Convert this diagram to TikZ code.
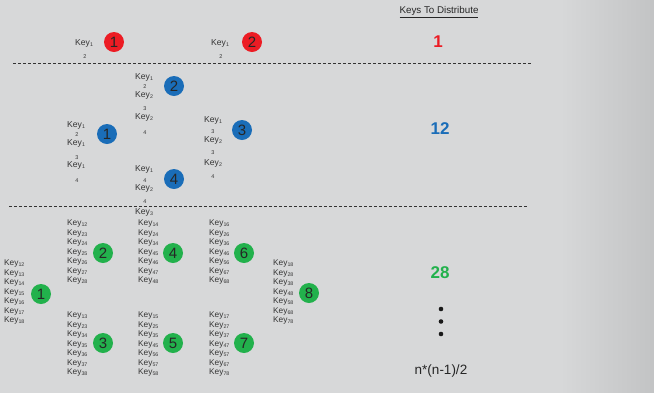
\documentclass[tikz,border=0pt]{standalone}
\usepackage{fontspec}
\setmainfont{Liberation Sans}
\definecolor{bg}{HTML}{D7D8D9}
\definecolor{bgdark}{HTML}{C2C3C4}
\definecolor{cred}{HTML}{EC1C24}
\definecolor{cblue}{HTML}{1A6DB8}
\definecolor{cgreen}{HTML}{22B14C}
\definecolor{txt}{HTML}{353535}
\newcommand\kk[1]{Key\raisebox{-1.4pt}{\fontsize{5.3}{5}\selectfont #1}}
\tikzset{
  party/.style={circle,minimum size=20pt,inner sep=0pt,text=black!85,font=\fontsize{15}{15}\selectfont},
  redp/.style={party,fill=cred},
  bluep/.style={party,fill=cblue},
  greenp/.style={party,fill=cgreen},
  keyt/.style={anchor=west,inner sep=0pt,text=txt,font=\fontsize{8.6}{9}\selectfont},
  subn/.style={inner sep=0pt,text=txt,font=\fontsize{5.5}{5}\selectfont},
  klist/.style={anchor=west,inner sep=0pt,align=left,text=txt,font=\fontsize{8.3}{9.5}\selectfont},
  sepline/.style={dashed,dash pattern=on 3pt off 2pt,line width=0.7pt,black!80},
  count/.style={font=\bfseries\fontsize{17}{17}\selectfont,inner sep=0pt}
}
\begin{document}
\begin{tikzpicture}[x=1pt,y=-1pt]
\useasboundingbox (0,0) rectangle (654,392);
\fill[bg] (-2,-2) rectangle (656,394);
\shade[left color=bg,right color=bgdark] (560,-4) rectangle (656,396);

% header
\node[inner sep=0pt,text=black!85,font=\fontsize{9.8}{10}\selectfont] (hdr) at (439,12) {\underline{Keys To Distribute}};

% ---- section 1
\node[keyt] (a1) at (75,43) {\kk{1}};
\node[subn] (a1s) at (85,57) {2};
\node[redp] (r1) at (114,42) {1};
\node[keyt] (a2) at (211,43) {\kk{1}};
\node[subn] (a2s) at (221,57) {2};
\node[redp] (r2) at (252,42) {2};
\node[count,text=cred] (c1) at (438,42) {1};
\coordinate (d1a) at (13,63);
\coordinate (d1b) at (532,63);
\draw[sepline] (d1a) -- (d1b);

% ---- section 2
% party 2
\node[keyt] (b2k1) at (135,77) {\kk{1}};
\node[subn] (b2n1) at (145,87) {2};
\node[keyt] (b2k2) at (135,95) {\kk{2}};
\node[subn] (b2n2) at (145,109) {3};
\node[keyt] (b2k3) at (135,117) {\kk{2}};
\node[subn] (b2n3) at (145,133) {4};
\node[bluep] (p2) at (174,86) {2};
% party 1
\node[keyt] (b1k1) at (67,125) {\kk{1}};
\node[subn] (b1n1) at (77,135) {2};
\node[keyt] (b1k2) at (67,143) {\kk{1}};
\node[subn] (b1n2) at (77,158) {3};
\node[keyt] (b1k3) at (67,165) {\kk{1}};
\node[subn] (b1n3) at (77,181) {4};
\node[bluep] (p1) at (107,134) {1};
% party 3
\node[keyt] (b3k1) at (204,120) {\kk{1}};
\node[subn] (b3n1) at (213,132) {3};
\node[keyt] (b3k2) at (204,140) {\kk{2}};
\node[subn] (b3n2) at (213,153) {3};
\node[keyt] (b3k3) at (204,163) {\kk{2}};
\node[subn] (b3n3) at (213,177) {4};
\node[bluep] (p3) at (242,130) {3};
% party 4
\node[keyt] (b4k1) at (135,169) {\kk{1}};
\node[subn] (b4n1) at (145,181) {4};
\node[keyt] (b4k2) at (135,188) {\kk{2}};
\node[subn] (b4n2) at (145,202) {4};
\node[keyt] (b4k3) at (135,212) {\kk{3}};
\node[bluep] (p4) at (174,179) {4};
\node[count,text=cblue] (c2) at (440,129) {12};
\coordinate (d2a) at (9,206);
\coordinate (d2b) at (527,206);
\draw[sepline] (d2a) -- (d2b);

% ---- section 3
\node[klist] (l1) at (4,292) {\kk{12}\\\kk{13}\\\kk{14}\\\kk{15}\\\kk{16}\\\kk{17}\\\kk{18}};
\node[klist] (l2) at (67,252) {\kk{12}\\\kk{23}\\\kk{24}\\\kk{25}\\\kk{26}\\\kk{27}\\\kk{28}};
\node[klist] (l3) at (67,344) {\kk{13}\\\kk{23}\\\kk{34}\\\kk{35}\\\kk{36}\\\kk{37}\\\kk{38}};
\node[klist] (l4) at (138,252) {\kk{14}\\\kk{24}\\\kk{34}\\\kk{45}\\\kk{46}\\\kk{47}\\\kk{48}};
\node[klist] (l5) at (138,344) {\kk{15}\\\kk{25}\\\kk{35}\\\kk{45}\\\kk{56}\\\kk{57}\\\kk{58}};
\node[klist] (l6) at (209,252) {\kk{16}\\\kk{26}\\\kk{36}\\\kk{46}\\\kk{56}\\\kk{67}\\\kk{68}};
\node[klist] (l7) at (209,344) {\kk{17}\\\kk{27}\\\kk{37}\\\kk{47}\\\kk{57}\\\kk{67}\\\kk{78}};
\node[klist] (l8) at (273,292) {\kk{18}\\\kk{28}\\\kk{38}\\\kk{48}\\\kk{58}\\\kk{68}\\\kk{78}};
\node[greenp] (g1) at (41,294) {1};
\node[greenp] (g2) at (103,253) {2};
\node[greenp] (g3) at (103,343) {3};
\node[greenp] (g4) at (173,253) {4};
\node[greenp] (g5) at (173,343) {5};
\node[greenp] (g6) at (244,253) {6};
\node[greenp] (g7) at (244,343) {7};
\node[greenp] (g8) at (309,293) {8};
\node[count,text=cgreen] (c3) at (440,273) {28};
\fill[black!90] (441,309) circle (2.3);
\fill[black!90] (441,321.5) circle (2.3);
\fill[black!90] (441,334) circle (2.3);
\node[inner sep=0pt,text=black!85,font=\fontsize{13.5}{14}\selectfont] (form) at (441,371) {n*(n-1)/2};
\end{tikzpicture}
\end{document}
